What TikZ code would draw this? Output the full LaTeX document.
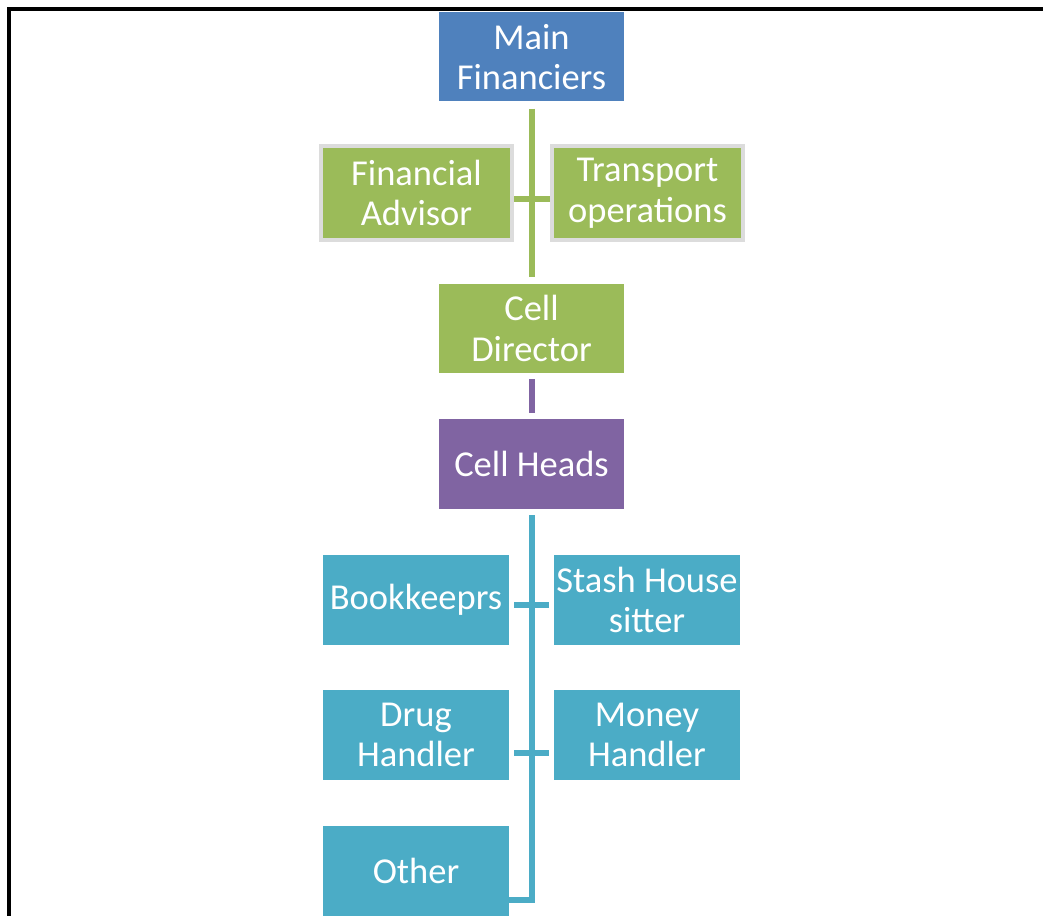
\documentclass[tikz,border=0pt]{standalone}
\usepackage{fontspec}
\setmainfont{Carlito}
\definecolor{sablue}{HTML}{4F81BD}
\definecolor{sagreen}{HTML}{9BBB59}
\definecolor{sapurple}{HTML}{8064A2}
\definecolor{saaqua}{HTML}{4BACC6}
\definecolor{saborder}{HTML}{DCDCDC}
\begin{document}
\begin{tikzpicture}[x=1pt,y=1pt,
  box/.style={rectangle, inner sep=0pt, text=white, align=center,
    font=\fontsize{36.5}{40.5}\selectfont, minimum width=185pt, minimum height=89pt},
  asst/.style={box, draw=saborder, line width=4pt, fill=sagreen, minimum width=191pt, minimum height=94pt},
  link/.style={line width=6pt}
]
\useasboundingbox (0,0) rectangle (1043,915);
\clip (0,0) rectangle (1043,915);
% frame
\draw[line width=4pt] (9,-10) -- (9,906) -- (1060,906);
% nodes
\node[box, fill=sablue] (mf) at (531.5,858) {Main\\Financiers};
\node[asst] (fa) at (416.5,722) {Financial\\Advisor};
\node[asst] (to) at (647.5,722) {Transport\\operations};
\node[box, fill=sagreen] (cd) at (531.5,586.5) {Cell\\Director};
\node[box, fill=sapurple, minimum height=90pt] (ch) at (531.5,451) {Cell Heads};
\node[box, fill=saaqua, minimum width=186pt, minimum height=90pt] (bk) at (416,315) {Bookkeeprs};
\node[box, fill=saaqua, minimum width=186pt, minimum height=90pt] (sh) at (647,315) {Stash House\\sitter};
\node[box, fill=saaqua, minimum width=186pt, minimum height=90pt] (dh) at (416,180) {Drug\\Handler};
\node[box, fill=saaqua, minimum width=186pt, minimum height=90pt] (mh) at (647,180) {Money\\Handler};
\node[box, fill=saaqua, minimum width=186pt, minimum height=90pt] (ot) at (416,44) {Other};
% connectors
\draw[link, sagreen, shorten <=7pt, shorten >=7pt] (mf.south) -- (cd.north);
\coordinate (t1) at (531.5,716);
\draw[link, sagreen] (fa.east |- t1) -- (to.west |- t1);
\draw[link, sapurple, shorten <=6pt, shorten >=6pt] (cd.south) -- (ch.north);
\coordinate (bend) at (531.5,15.5);
\draw[link, saaqua, line cap=butt] ([yshift=-6pt]ch.south) -- (bend) -- (bend -| ot.east);
\coordinate (t2) at (531.5,310);
\coordinate (t3) at (531.5,162);
\draw[link, saaqua] ([xshift=5pt]bk.east |- t2) -- ([xshift=-5pt]sh.west |- t2);
\draw[link, saaqua] ([xshift=5pt]dh.east |- t3) -- ([xshift=-5pt]mh.west |- t3);
\end{tikzpicture}
\end{document}
